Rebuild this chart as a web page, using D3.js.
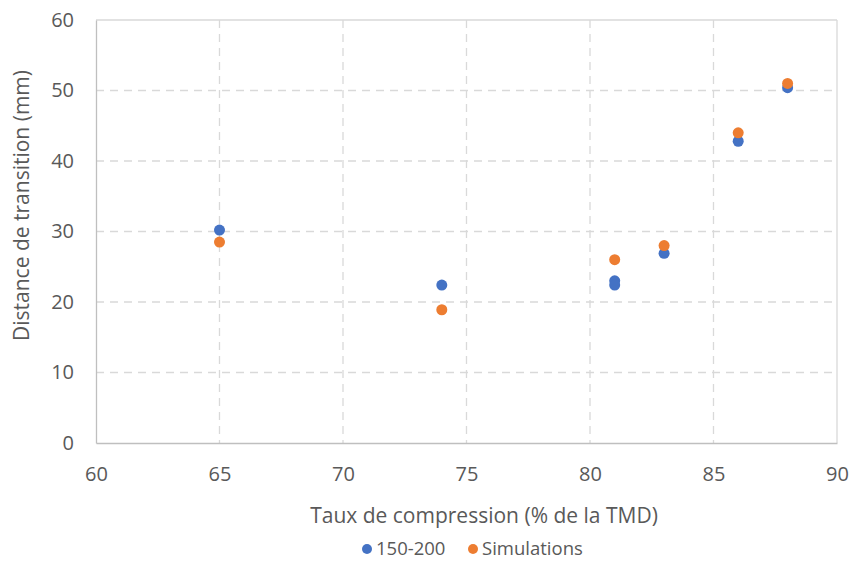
<!DOCTYPE html>
<html><head><meta charset="utf-8">
<script src="https://cdn.jsdelivr.net/npm/d3@7"></script>
<style>body{margin:0;background:#fff;} text{font-family:"Open Sans",sans-serif;fill:#595959;}</style>
</head><body><svg id="c" width="850" height="561"></svg>
<script>
const seriesNames = ["150-200", "Simulations"];
const colors = ["#4472C4", "#ED7D31"];
const blueX = [65, 74, 81, 81, 83, 86, 88];
const blueY = [30.2, 22.4, 23.0, 22.4, 26.9, 42.8, 50.4];
const orangeX = [65, 74, 81, 83, 86, 88];
const orangeY = [28.5, 18.9, 26.0, 28.0, 44.0, 51.0];
const xTicks = [60, 65, 70, 75, 80, 85, 90];
const yTicks = [0, 10, 20, 30, 40, 50, 60];
const xTitle = "Taux de compression (% de la TMD)";
const yTitle = "Distance de transition (mm)";

const svg = d3.select("#c");
const L = 96, R = 837, T = 20, B = 443;
const x = d3.scaleLinear().domain([60, 90]).range([L, R]);
const y = d3.scaleLinear().domain([0, 60]).range([B, T]);

// gridlines
const g = svg.append("g");
g.selectAll(".vg").data(xTicks.slice(1, -1)).enter().append("line")
  .attr("x1", d => x(d)).attr("x2", d => x(d)).attr("y1", T).attr("y2", B)
  .attr("stroke", "#d9d9d9").attr("stroke-width", 1.3).attr("stroke-dasharray", "8,6");
g.selectAll(".hg").data(yTicks.slice(1, -1)).enter().append("line")
  .attr("x1", L).attr("x2", R).attr("y1", d => y(d)).attr("y2", d => y(d))
  .attr("stroke", "#d9d9d9").attr("stroke-width", 1.3).attr("stroke-dasharray", "8,6");
// frame
svg.append("line").attr("x1", L).attr("x2", R).attr("y1", T).attr("y2", T).attr("stroke", "#d9d9d9").attr("stroke-width", 1.3);
svg.append("line").attr("x1", R).attr("x2", R).attr("y1", T).attr("y2", B).attr("stroke", "#d9d9d9").attr("stroke-width", 1.3);

// axes
const xAxis = svg.append("g").attr("transform", `translate(0,${B})`)
  .call(d3.axisBottom(x).tickValues(xTicks).tickSize(0).tickPadding(24));
const yAxis = svg.append("g").attr("transform", `translate(${L},0)`)
  .call(d3.axisLeft(y).tickValues(yTicks).tickSize(0).tickPadding(22));
[xAxis, yAxis].forEach(a => {
  a.select(".domain").attr("stroke", "#bfbfbf").attr("stroke-width", 1.3);
  a.selectAll("text").style("font-size", "20px").style("font-family", "'Open Sans',sans-serif").attr("fill", "#595959");
});

// titles
svg.append("text").attr("x", 484).attr("y", 523).attr("text-anchor", "middle")
  .style("font-size", "21px").text(xTitle);
svg.append("text").attr("transform", `translate(29,${(T + B) / 2 - 26}) rotate(-90)`).attr("text-anchor", "middle")
  .style("font-size", "21px").text(yTitle);

// points
const series = [
  blueX.map((d, i) => ({x: d, y: blueY[i]})),
  orangeX.map((d, i) => ({x: d, y: orangeY[i]}))
];
series.forEach((s, k) => {
  svg.append("g").selectAll("circle").data(s).enter().append("circle")
    .attr("cx", d => x(d.x)).attr("cy", d => y(d.y)).attr("r", 5.5).attr("fill", colors[k]);
});

// legend
const leg = svg.append("g");
const legX = [367, 473];
seriesNames.forEach((n, i) => {
  leg.append("circle").attr("cx", legX[i]).attr("cy", 549).attr("r", 5).attr("fill", colors[i]);
  leg.append("text").attr("x", legX[i] + 9).attr("y", 555).style("font-size", "18.5px").text(n);
});
</script></body></html>
